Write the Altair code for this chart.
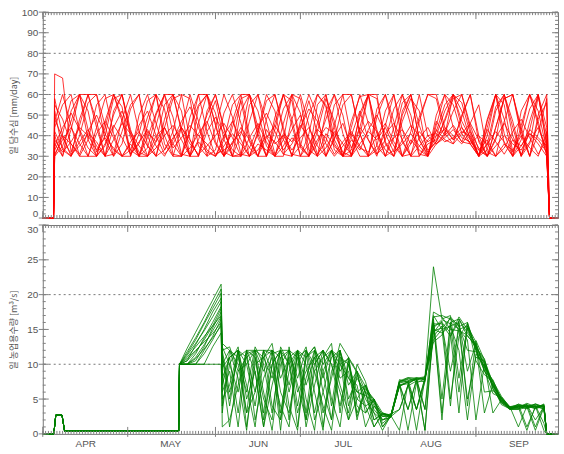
import altair as alt
import pandas as pd

# ---------------- data ----------------
month_names = ["APR", "MAY", "JUN", "JUL", "AUG", "SEP"]
month_start_day = [0, 30, 61, 91, 122, 153]
month_label_day = [15, 45, 76, 106, 137, 168]
all_days = list(range(0, 183))

top_grid = [20, 40, 60, 80]
bottom_grid = [10, 20]

# red panel: day grid (days since Apr 1)
red_days = [0, 3.8, 4.2] + list(range(7, 179, 3)) + [179, 182]
red_lead = [0, 0]
red_tail = [0, 0]

red_1 = [70, 68, 32, 45, 60, 60, 38, 30, 42, 55,
         60, 35, 30, 48, 60, 52, 30, 38, 50, 60,
         44, 30, 30, 55, 60, 40, 30, 46, 60, 58,
         33, 30, 52, 60, 41, 30, 44, 60, 60, 36,
         30, 50, 60, 38, 31, 40, 52, 60, 44, 36,
         30, 47, 60, 55, 32, 42, 60, 45, 31]
red_2 = [55, 48, 36, 30, 30, 44, 58, 60, 47, 33,
         30, 39, 51, 60, 60, 42, 30, 30, 46, 57,
         38, 30, 41, 60, 52, 35, 30, 30, 48, 60,
         45, 31, 37, 55, 60, 39, 30, 30, 53, 60,
         42, 30, 36, 49, 60, 58, 41, 36, 50, 60,
         37, 30, 44, 58, 60, 40, 30, 48, 56]
red_3 = [40, 30, 52, 60, 43, 30, 35, 50, 60, 41,
         30, 30, 45, 60, 49, 31, 30, 54, 60, 37,
         30, 47, 60, 60, 44, 30, 38, 53, 60, 36,
         30, 42, 58, 47, 30, 30, 51, 60, 43, 30,
         39, 56, 60, 45, 33, 37, 48, 60, 52, 38,
         30, 33, 52, 60, 44, 30, 36, 59, 40]
red_4 = [33, 41, 57, 60, 38, 30, 44, 60, 54, 31,
         36, 49, 60, 40, 30, 30, 43, 55, 60, 46,
         30, 35, 58, 60, 39, 30, 49, 60, 45, 30,
         30, 55, 60, 38, 30, 47, 59, 60, 35, 30,
         44, 60, 50, 31, 30, 45, 60, 55, 41, 36,
         30, 40, 60, 48, 30, 38, 53, 60, 35]
red_5 = [47, 60, 45, 30, 38, 55, 60, 41, 30, 30,
         50, 60, 46, 33, 42, 60, 58, 35, 30, 44,
         60, 49, 31, 30, 41, 57, 60, 44, 30, 35,
         50, 60, 54, 33, 30, 40, 52, 38, 30, 45,
         60, 43, 30, 30, 38, 42, 55, 60, 47, 39,
         30, 48, 60, 41, 30, 45, 60, 52, 33]
red_6 = [36, 30, 43, 60, 60, 47, 30, 31, 48, 60,
         42, 30, 37, 55, 60, 43, 30, 46, 60, 51,
         32, 30, 52, 60, 41, 30, 43, 60, 57, 34,
         30, 46, 60, 44, 30, 33, 49, 60, 58, 37,
         30, 52, 60, 38, 30, 50, 60, 44, 37, 46,
         55, 32, 30, 47, 60, 44, 30, 41, 58]
red_7 = [58, 40, 30, 48, 60, 44, 30, 52, 60, 39,
         30, 45, 60, 53, 31, 30, 49, 60, 42, 30,
         38, 55, 60, 40, 30, 30, 46, 60, 48, 30,
         41, 60, 55, 36, 30, 44, 60, 46, 31, 38,
         53, 60, 45, 30, 36, 38, 47, 58, 60, 43,
         30, 36, 54, 60, 40, 30, 47, 60, 44]
red_8 = [30, 35, 47, 60, 52, 32, 40, 58, 60, 43,
         30, 34, 50, 60, 41, 30, 42, 60, 60, 45,
         30, 44, 57, 37, 30, 48, 60, 42, 30, 47,
         60, 50, 30, 38, 55, 60, 41, 30, 49, 60,
         47, 30, 42, 60, 40, 36, 41, 52, 60, 45,
         33, 30, 44, 58, 60, 42, 30, 50, 60]
red_9 = [44, 55, 60, 42, 30, 30, 47, 60, 49, 30,
         41, 57, 60, 36, 30, 44, 60, 47, 30, 33,
         51, 60, 46, 30, 42, 60, 52, 31, 30, 43,
         57, 41, 30, 45, 60, 60, 41, 30, 35, 52,
         60, 37, 30, 47, 60, 60, 44, 38, 49, 60,
         40, 30, 38, 60, 47, 30, 43, 60, 36]
red_10 = [52, 33, 30, 40, 56, 60, 45, 30, 36, 53,
          60, 40, 30, 44, 58, 60, 38, 30, 52, 60,
          43, 30, 31, 47, 60, 47, 31, 38, 60, 51,
          30, 36, 48, 60, 50, 30, 40, 60, 41, 30,
          33, 47, 58, 52, 30, 47, 40, 60, 56, 41,
          30, 44, 60, 36, 30, 52, 60, 47, 30]
red_11 = [31, 38, 44, 36, 30, 41, 47, 39, 30, 33,
          45, 52, 40, 31, 36, 44, 38, 30, 42, 49,
          41, 33, 30, 39, 46, 37, 30, 35, 43, 50,
          38, 30, 34, 42, 36, 31, 40, 47, 42, 33,
          30, 38, 45, 40, 32, 37, 44, 40, 36, 42,
          34, 30, 39, 46, 38, 31, 37, 44, 33]
red_12 = [42, 34, 30, 37, 43, 35, 30, 38, 46, 41,
          32, 30, 40, 44, 36, 30, 34, 41, 47, 36,
          30, 37, 42, 34, 30, 39, 45, 38, 31, 30,
          36, 43, 39, 31, 37, 42, 35, 30, 33, 41,
          46, 38, 30, 35, 40, 41, 37, 39, 44, 38,
          31, 36, 42, 37, 30, 35, 41, 38, 32]
red_13 = [35, 44, 51, 43, 34, 30, 36, 45, 39, 31,
          37, 43, 35, 30, 38, 47, 54, 44, 33, 30,
          35, 41, 36, 30, 33, 40, 37, 31, 36, 44,
          53, 47, 36, 30, 35, 41, 34, 32, 40, 46,
          37, 30, 31, 39, 44, 36, 39, 43, 37, 36,
          40, 36, 30, 34, 42, 48, 39, 31, 38]
red_14 = [30, 40, 36, 31, 42, 50, 41, 33, 30, 37,
          42, 35, 30, 33, 39, 44, 36, 31, 35, 40,
          46, 39, 30, 34, 44, 51, 42, 33, 39, 35,
          30, 38, 44, 41, 32, 30, 36, 42, 38, 44,
          35, 30, 38, 33, 30, 43, 38, 36, 41, 46,
          38, 30, 35, 40, 36, 33, 41, 36, 30]
red_15 = [48, 39, 31, 35, 41, 37, 30, 44, 52, 42,
          35, 30, 34, 40, 45, 38, 30, 37, 32, 30,
          40, 47, 38, 30, 36, 33, 30, 41, 37, 45,
          39, 30, 41, 35, 30, 38, 33, 43, 50, 41,
          32, 36, 41, 35, 30, 36, 40, 45, 39, 37,
          33, 38, 30, 36, 33, 40, 34, 30, 42]
red_16 = [38, 32, 37, 44, 40, 33, 39, 34, 30, 36,
          30, 42, 37, 44, 34, 39, 45, 40, 36, 31,
          33, 36, 44, 38, 30, 43, 36, 40, 33, 39,
          44, 35, 30, 39, 46, 34, 44, 38, 31, 35,
          39, 43, 36, 42, 37, 40, 43, 38, 42, 40,
          30, 43, 37, 31, 38, 35, 43, 39, 35]
red_series = [red_1, red_2, red_3, red_4, red_5, red_6, red_7, red_8,
              red_9, red_10, red_11, red_12, red_13, red_14, red_15, red_16]

# green panel
green_lead_days = [0, 3.9, 4.6, 6.8, 7.7, 48]
green_lead = [0, 0, 2.7, 2.7, 0.4, 0.4]
green_days = [48.3, 51, 54, 57, 60, 63, 63.4] + list(range(66, 178, 3)) + [178, 182]
green_tail = [0, 0]

green_1 = [10, 12.3, 14.6, 16.9, 19.2, 21.5, 8,
           11, 3, 12, 9, 1, 10, 12, 4, 0.5, 11, 12.5, 6, 2, 11,
           10, 5, 7, 4, 2.5, 2.5,
           7, 7.5, 8, 8.2, 24,
           16.5, 17, 8, 15.5,
           12.5, 10, 7.5, 5, 3.8,
           4, 4.2, 1, 4]
green_2 = [10, 11.5, 13.5, 15.8, 18, 20.2, 11,
           4, 12, 7, 1, 11, 12, 2, 9, 12, 5, 0.5, 11, 13, 3,
           11, 9, 3, 5, 1, 2.8,
           7.2, 3.5, 7.8, 8, 17,
           15, 4, 16.5, 14.5,
           13, 9.5, 7, 5.2, 3.6,
           3.8, 0.5, 4, 3.6]
green_3 = [10, 10.5, 12.8, 15, 17.5, 19.5, 3,
           12, 8, 0.5, 11, 5, 2, 12.5, 10, 3, 8, 12, 1, 9, 12,
           4, 9, 6, 1, 3, 2.5,
           3.5, 7, 3.5, 7.5, 16,
           2, 16, 15, 5,
           11, 10.5, 6.5, 4.5, 3.5,
           3.5, 3.8, 4, 0.5]
green_4 = [10, 10, 11.5, 13.8, 16, 18.3, 12,
           6, 11, 12, 2, 8, 11, 0.5, 12, 7, 2, 10, 12, 5, 1,
           10.5, 2, 7, 4.5, 2.8, 2.6,
           6.8, 7.5, 0.5, 8, 15.5,
           16, 14.5, 3, 16,
           12, 9, 7.8, 4.8, 3.7,
           4.1, 3.9, 4.3, 3.8]
green_5 = [10, 10, 10.5, 12.5, 15.2, 17.5, 6,
           9, 1, 11.5, 12, 6, 0.5, 10, 12, 11, 1, 7, 12, 10, 6,
           2, 8.5, 5, 3, 0.5, 2.7,
           7.5, 8, 7.8, 3.5, 14,
           15.5, 9, 15, 13.5,
           2, 10, 7, 5, 3.9,
           1, 4, 3.7, 4.2]
green_6 = [10, 11, 12.5, 14, 15.5, 17, 10,
           12, 10, 3, 6, 12, 9, 4, 1, 12, 10, 3, 9, 12, 8,
           9, 3, 6.5, 5, 2, 2.4,
           7, 7.2, 8, 7.8, 16.5,
           5, 16, 16.5, 14,
           12.8, 3, 7.2, 5.1, 3.6,
           3.9, 4.2, 2, 3.9]
green_7 = [10, 10, 10, 11.5, 13.5, 15.8, 1,
           2, 7, 12, 11, 3, 12, 8, 11, 1, 12, 9, 4, 0.5, 10,
           8, 7, 1, 4, 2.5, 2.9,
           3.5, 6.9, 7.6, 0.5, 15,
           14.5, 15.5, 12, 2,
           11.5, 9.8, 6.8, 4.2, 3.6,
           4, 3.6, 4.1, 1.5]
green_8 = [10, 10.8, 12, 13.2, 14.4, 16, 12.5,
           10, 12.5, 5, 9, 1, 7, 12, 6, 11, 12, 2, 6, 11, 12,
           5, 8, 6, 2, 3, 2.5,
           7.4, 7.8, 3.5, 8.1, 14.5,
           16.2, 5, 14, 15.8,
           10.5, 8.5, 7.5, 4.6, 3.8,
           3.7, 4.2, 3.9, 4]
green_9 = [10, 10, 10, 10, 12.5, 14.5, 9,
           1, 9, 10, 12, 12, 4, 2, 12.5, 6, 9, 11, 3, 8, 13,
           11, 4, 3, 5, 1.5, 2.6,
           0.5, 7.2, 7.9, 8, 13.5,
           15, 15.5, 16, 9,
           13, 6, 6.2, 5.3, 3.9,
           4.2, 1, 3.8, 4.1]
green_10 = [10, 10, 10, 10, 10, 10, 5,
            7, 12, 1, 10, 11, 13, 6, 3, 10, 12.5, 6, 0.5, 12, 7,
            3, 10, 7.5, 3, 2, 2.4,
            7.1, 0.5, 7.3, 7.9, 16,
            3, 14, 16.8, 15,
            12, 10.2, 3, 4.9, 3.5,
            3.6, 4, 4.2, 3.7]
green_11 = [10, 11.8, 13.8, 16, 18.5, 20.8, 13,
            12, 11, 6, 12.5, 10, 3, 11, 12, 8, 12, 10, 12, 4, 12,
            8, 6, 7, 2, 2.8, 2.7,
            7.6, 8.1, 8, 3.5, 16.8,
            17, 16.5, 15, 15.5,
            13.2, 9, 7, 4.4, 3.7,
            3.6, 4.1, 3.7, 4.3]
green_12 = [10, 10.5, 11.8, 13.5, 15.5, 18, 9.5,
            11, 12, 10, 4, 12, 11.5, 12, 7, 12, 3, 12, 10, 12, 11,
            2, 5, 4, 4.8, 2.6, 2.5,
            7.3, 7.6, 8.1, 7.7, 15.2,
            16.4, 15.8, 6, 15.2,
            12.6, 10.4, 6.9, 5, 3.5,
            4.3, 3.8, 4, 4.1]
green_13 = [10, 10, 11, 12.8, 14.8, 16.8, 4,
            10, 6, 12, 12, 9, 12, 11, 2, 12, 11, 12, 8, 12, 10,
            10.8, 8.8, 4, 1, 2.9, 2.6,
            7, 3.5, 7.7, 8.2, 14.8,
            15.2, 16.6, 15.5, 12,
            11.8, 9.6, 7.6, 5.4, 3.8,
            3.9, 3.7, 4.3, 3.9]
green_14 = [10, 11.3, 13, 14.8, 16.8, 19, 11.5,
            5, 12, 11, 12, 2, 10, 12, 12, 4, 11, 12.5, 9, 2, 12,
            7, 9, 6.8, 3.5, 2, 2.8,
            6.9, 7.4, 7.9, 0.5, 15.8,
            15.8, 14, 16.2, 4,
            13.4, 10.6, 7.3, 4.6, 3.6,
            4, 3.9, 0.5, 3.8]
green_15 = [10, 10, 10, 12, 14, 16.5, 12,
            12.5, 9, 11, 6, 12, 12, 3, 11, 12, 7, 11, 12, 10, 4,
            10, 6, 5.5, 4.5, 1, 2.5,
            7.8, 7.4, 3.5, 8, 13.2,
            14.2, 16.8, 15.4, 16,
            12.2, 9.2, 5.8, 5.2, 3.8,
            4.2, 4, 3.6, 4]
green_16 = [10, 10, 10.8, 12.2, 13.8, 15.5, 7,
            11, 12, 3, 12, 11, 8, 12, 10, 12, 2, 9, 11, 12, 9,
            11, 2.5, 6, 5, 3, 2.7,
            7.5, 7.9, 7.6, 7.5, 17.5,
            16.8, 15, 14.8, 14.2,
            12.4, 10.8, 6.4, 4.7, 3.9,
            3.8, 4.4, 3.9, 3.6]
green_series = [green_1, green_2, green_3, green_4, green_5, green_6,
                green_7, green_8, green_9, green_10, green_11, green_12,
                green_13, green_14, green_15, green_16]

# ---------------- tables ----------------
red_rows = []
for k, s in enumerate(red_series):
    for d, v in zip(red_days, red_lead + s + red_tail):
        red_rows.append({"day": d, "v": v, "s": k})
red_df = pd.DataFrame(red_rows)

green_rows = []
for k, s in enumerate(green_series):
    for d, v in zip(green_lead_days + green_days, green_lead + s + green_tail):
        green_rows.append({"day": d, "v": v, "s": k})
green_df = pd.DataFrame(green_rows)

# ---------------- styling ----------------
TICK = "#808080"
LABEL = "#555555"
FONT = "Liberation Sans"
KFONT = "Noto Sans CJK KR"
W = 518

month_expr = "''"
for d, m in reversed(list(zip(month_label_day, month_names))):
    month_expr = f"datum.value == {d} ? '{m}' : ({month_expr})"


def panel(df, color, opacity, ymax, minor_step, major_step, grid_vals,
          ytitle, show_x_labels, H, edge_value, edge_baseline):
    xs = alt.Scale(domain=[0, 182], nice=False, zero=False)
    ys = alt.Scale(domain=[0, ymax], nice=False, zero=True)
    y_minor = pd.DataFrame({"t": list(range(0, ymax + 1, minor_step))})
    y_major = pd.DataFrame({"t": list(range(0, ymax + 1, major_step))})
    x_minor = pd.DataFrame({"d": all_days})
    x_major = pd.DataFrame({"d": month_start_day})

    grid = alt.Chart(pd.DataFrame({"g": grid_vals})).mark_rule(
        color="#777777", strokeDash=[2, 3], strokeWidth=1
    ).encode(y=alt.Y("g:Q", scale=ys, axis=None))

    if show_x_labels:
        xaxis = alt.Axis(values=month_label_day, labelExpr=month_expr,
                         ticks=False, tickSize=0, domain=False, grid=False,
                         labelPadding=5, labelFont=FONT, labelFontSize=10,
                         labelColor=LABEL, labelOverlap=False,
                         labelFlush=False, title=None, orient="bottom")
    else:
        xaxis = None

    baseline = {"condition": {"test": f"datum.value == {edge_value}",
                              "value": edge_baseline},
                "value": "middle"}

    lines = alt.Chart(df).mark_line(
        color=color, strokeWidth=1, opacity=opacity
    ).encode(
        x=alt.X("day:Q", scale=xs, axis=xaxis, title=None),
        y=alt.Y("v:Q", scale=ys,
                axis=alt.Axis(values=list(y_major["t"]), ticks=False,
                              tickSize=0, domain=False, grid=False,
                              orient="left", labelBaseline=baseline,
                              labelPadding=5, labelFont=FONT,
                              labelFontSize=10, labelColor=LABEL,
                              title=ytitle, titleFont=KFONT,
                              titleFontSize=9, titleFontWeight="normal",
                              titleColor=LABEL, titlePadding=2,
                              minExtent=22, maxExtent=22)),
        detail="s:N")

    def xt(data, y1, y2):
        return alt.Chart(data).mark_rule(color=TICK, strokeWidth=1).encode(
            x=alt.X("d:Q", scale=xs, axis=None),
            y=alt.value(y1), y2=alt.value(y2))

    def yt(data, x1, x2):
        return alt.Chart(data).mark_rule(color=TICK, strokeWidth=1).encode(
            y=alt.Y("t:Q", scale=ys, axis=None),
            x=alt.value(x1), x2=alt.value(x2))

    bottom_out = H + 3 if show_x_labels else H
    ticks = [
        xt(x_minor, H - 3, H), xt(x_minor, 0, 3),
        xt(x_major, H - 7, bottom_out), xt(x_major, 0, 7),
        yt(y_minor, 0, 3), yt(y_minor, W - 3, W),
        yt(y_major, -4, 6), yt(y_major, W - 6, W),
    ]

    return alt.layer(grid, lines, *ticks).resolve_axis(
        x="independent", y="independent"
    ).properties(width=W, height=H)


top = panel(red_df, "#ff0000", 0.8, 100, 2, 10, top_grid,
            "일 담수심 [mm/day]", False, 207, 0, "bottom")
bottom = panel(green_df, "#008000", 0.8, 30, 1, 5, bottom_grid,
               "일 농업용수량 [m³/s]", True, 210, 30, "top")

chart = alt.vconcat(top, bottom, spacing=7, bounds="flush").properties(
    padding={"left": 9, "top": 5, "right": 3, "bottom": 0}
).configure_view(stroke="#777777", strokeWidth=1)

chart.save("out.html", embed_options={"renderer": "svg", "actions": False})
